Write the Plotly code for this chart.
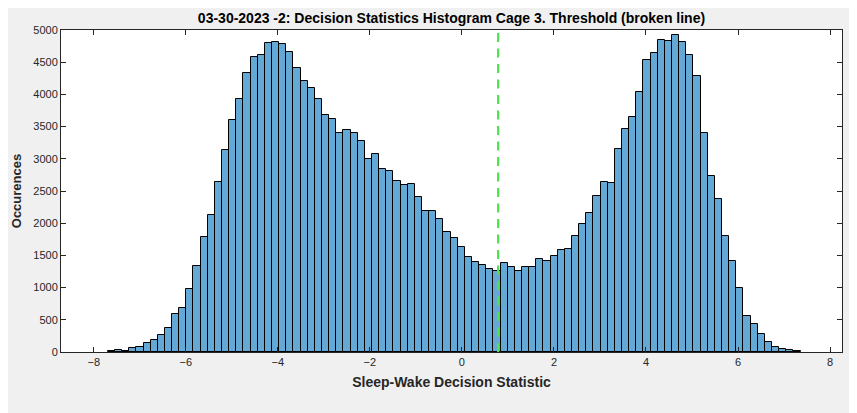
import numpy as np
import plotly.graph_objects as go

# Histogram data
bin_start = -7.696
bin_width = 0.1552
counts = [15, 26, 15, 57, 72, 140, 181, 259, 368, 590,
          679, 974, 1331, 1782, 2124, 2637, 3134, 3600, 3926, 4330,
          4579, 4610, 4802, 4812, 4786, 4657, 4403, 4206, 4092, 3926,
          3678, 3616, 3398, 3445, 3398, 3274, 2994, 3072, 2839, 2808,
          2652, 2590, 2611, 2404, 2186, 2186, 2062, 1860, 1766, 1627,
          1471, 1393, 1347, 1285, 1264, 1378, 1316, 1254, 1316, 1316,
          1440, 1409, 1487, 1585, 1601, 1797, 1984, 2155, 2419, 2637,
          2621, 3149, 3465, 3647, 4035, 4532, 4647, 4843, 4828, 4921,
          4817, 4610, 4284, 3398, 2730, 2372, 1797, 1409, 989, 559,
          435, 280, 155, 78, 52, 31, 15]
threshold = 0.787
x_ticks = [-8, -6, -4, -2, 0, 2, 4, 6, 8]
y_ticks = [0, 500, 1000, 1500, 2000, 2500, 3000, 3500, 4000, 4500, 5000]

title = "03-30-2023 -2: Decision Statistics Histogram Cage 3. Threshold (broken line)"
xlabel = "Sleep-Wake Decision Statistic"
ylabel = "Occurences"

centers = [bin_start + (i + 0.5) * bin_width for i in range(len(counts))]

fig = go.Figure()
fig.add_trace(go.Bar(
    x=centers, y=counts, width=bin_width,
    marker=dict(color="#64A9D6", line=dict(color="#000000", width=1)),
    hoverinfo="x+y",
))
fig.add_trace(go.Scatter(
    x=[threshold, threshold], y=[0, 5000], mode="lines",
    line=dict(color="#4DE34D", width=2.2, dash="9px,6.5px"),
    hoverinfo="skip",
))

FONT = "Liberation Sans, Arial, sans-serif"
axis_common = dict(
    showline=True, linecolor="#262626", linewidth=1, mirror="ticks",
    ticks="inside", ticklen=5, tickcolor="#262626",
    showgrid=False, zeroline=False,
    tickfont=dict(family=FONT, size=11, color="#262626"),
)

# page body has an 8px offset; figure sized/positioned to compensate
W, H = 849, 405
L, R, T, B = 53, 15, 22, 61

fig.update_layout(
    width=W, height=H,
    paper_bgcolor="#F0F0F0", plot_bgcolor="#FFFFFF",
    margin=dict(l=L, r=R, t=T, b=B, autoexpand=False),
    showlegend=False, bargap=0,
    title=dict(text="<b>" + title + "</b>", x=(L + (W - R)) / 2 / W, xanchor="center",
               y=1 - 10 / H, yanchor="middle",
               font=dict(family=FONT, size=14, color="#000000")),
    xaxis=dict(range=[-8.713, 8.26], tickvals=x_ticks,
               title=dict(text="<b>" + xlabel + "</b>", standoff=9,
                          font=dict(family=FONT, size=14, color="#262626")),
               **axis_common),
    yaxis=dict(range=[0, 5000], tickvals=y_ticks,
               title=dict(text="<b>" + ylabel + "</b>", standoff=8,
                          font=dict(family=FONT, size=13, color="#262626")),
               **axis_common),
)

fig.write_html("out.html")
